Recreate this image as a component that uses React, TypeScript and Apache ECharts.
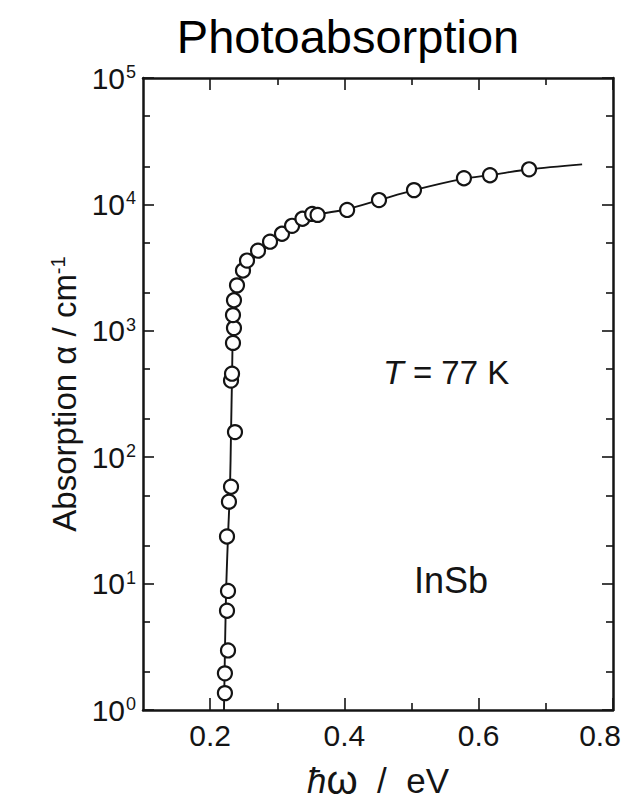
import React, { useEffect, useRef } from 'react';
import * as echarts from 'echarts';

// ---- data ----
// measured points (photon energy in eV, absorption in cm^-1)
const measuredX = [0.222, 0.222, 0.2266, 0.2251, 0.2266, 0.2251, 0.228, 0.2311, 0.237, 0.2311, 0.2326, 0.234, 0.2355, 0.234, 0.2355, 0.240, 0.2489, 0.2549, 0.2713, 0.2892, 0.307, 0.322, 0.3375, 0.352, 0.36, 0.404, 0.4515, 0.5036, 0.578, 0.6168, 0.675];
const measuredY = [1.36, 1.95, 2.96, 6.1, 8.75, 23.6, 44.5, 58.4, 158, 404, 458, 802, 1052, 1331, 1745, 2288, 3000, 3594, 4305, 5070, 5860, 6768, 7700, 8410, 8260, 9040, 10820, 12970, 16110, 17020, 18950];

// fitted curve drawn through the points
const curveX = [0.2206, 0.2236, 0.2266, 0.2296, 0.2311, 0.2326, 0.234, 0.237, 0.2415, 0.2504, 0.2668, 0.2892, 0.319, 0.3487, 0.4038, 0.4515, 0.5036, 0.578, 0.6168, 0.675, 0.754];
const curveY = [1, 8.0, 23.6, 58.4, 158, 426, 1052, 1800, 2360, 3100, 3850, 4880, 6630, 8050, 9150, 10820, 12970, 15990, 17020, 18950, 20750];

// axis ticks
const xMajorTicks = [0.2, 0.4, 0.6, 0.8];
const xMinorTicks = [0.3, 0.5, 0.7];
const xTickLabels = [0.2, 0.4, 0.6, 0.8];
const yDecades = [0, 1, 2, 3, 4];
const yMinorMantissas = [2, 5];

const FONT = "'Liberation Sans', Arial, Helvetica, sans-serif";
const INK = '#141414';

export default function App() {
  const ref = useRef<HTMLDivElement>(null);

  useEffect(() => {
    if (!ref.current) return;
    const chart = echarts.init(ref.current, undefined, { renderer: 'svg' });

    const yMinorExps: number[] = [];
    yDecades.forEach((d) => yMinorMantissas.forEach((m) => yMinorExps.push(d + Math.log10(m))));

    const axisLineStyle = { color: INK, width: 2.5 };
    const tickStyle = { color: INK, width: 1.6 };
    const xBase = { type: 'value', min: 0.1, max: 0.8, gridIndex: 0, splitLine: { show: false } };
    const yMinorBase = { type: 'value', min: 0, max: 5, gridIndex: 0, splitLine: { show: false } };

    const option: any = {
      animation: false,
      backgroundColor: '#ffffff',
      grid: { left: 143, right: 14, top: 78, bottom: 90, containLabel: false },
      graphic: [
        {
          type: 'text', x: 348, y: 36,
          style: { text: 'Photoabsorption', fontSize: 47, fontFamily: FONT, fill: '#000', align: 'center', verticalAlign: 'middle' },
        },
        {
          type: 'text', x: 383, y: 372,
          style: {
            text: '{i|T} = 77 K', fontSize: 33, fontFamily: FONT, fill: INK, align: 'left', verticalAlign: 'middle',
            rich: { i: { fontSize: 34, fontFamily: FONT, fontStyle: 'italic', fill: INK } },
          },
        },
        {
          type: 'text', x: 451, y: 580,
          style: { text: 'InSb', fontSize: 36, fontFamily: FONT, fill: INK, align: 'center', verticalAlign: 'middle' },
        },
      ],
      xAxis: [
        {
          ...xBase, position: 'bottom',
          axisLine: { show: true, onZero: false, lineStyle: axisLineStyle },
          axisTick: { show: true, inside: true, length: 12, customValues: xMajorTicks, lineStyle: tickStyle },
          axisLabel: {
            customValues: xTickLabels, margin: 10, fontSize: 30, fontFamily: FONT, color: INK,
            formatter: (v: number) => (Math.abs(v - 0.8) < 1e-6 ? '{r|0.8}' : v.toFixed(1)),
            rich: { r: { fontSize: 30, fontFamily: FONT, color: INK, padding: [0, 26, 0, 0] } },
          },
          name: '{h|ħ}{w|ω}{n|  /  eV}', nameLocation: 'middle', nameGap: 50,
          nameTextStyle: {
            fontSize: 35, fontFamily: FONT, color: INK,
            rich: {
              h: { fontSize: 35, fontFamily: FONT, color: INK, fontStyle: 'italic' },
              w: { fontSize: 40, fontFamily: FONT, color: INK },
              n: { fontSize: 35, fontFamily: FONT, color: INK },
            },
          },
        },
        {
          ...xBase, position: 'bottom',
          axisLine: { show: false, onZero: false },
          axisTick: { show: true, inside: true, length: 7, customValues: xMinorTicks, lineStyle: tickStyle },
          axisLabel: { show: false },
        },
        {
          ...xBase, position: 'top',
          axisLine: { show: true, onZero: false, lineStyle: axisLineStyle },
          axisTick: { show: true, inside: true, length: 12, customValues: xMajorTicks, lineStyle: tickStyle },
          axisLabel: { show: false },
        },
        {
          ...xBase, position: 'top',
          axisLine: { show: false, onZero: false },
          axisTick: { show: true, inside: true, length: 7, customValues: xMinorTicks, lineStyle: tickStyle },
          axisLabel: { show: false },
        },
      ],
      yAxis: [
        {
          type: 'log', logBase: 10, min: 1, max: 100000, position: 'left', gridIndex: 0,
          splitLine: { show: false },
          axisLine: { show: true, onZero: false, lineStyle: axisLineStyle },
          axisTick: { show: true, inside: true, length: 11, lineStyle: tickStyle },
          axisLabel: {
            margin: 7, color: INK, fontFamily: FONT, fontSize: 30,
            formatter: (v: number) => `{b|10}{s|${Math.round(Math.log10(v))}}`,
            rich: {
              b: { fontSize: 30, fontFamily: FONT, color: INK },
              s: { fontSize: 18, fontFamily: FONT, color: INK, verticalAlign: 'top', padding: [0, 0, 0, 1] },
            },
          },
          name: '{n|Absorption α / cm}{s|-1}', nameLocation: 'middle', nameGap: 52,
          nameTextStyle: {
            fontSize: 33, fontFamily: FONT, color: INK,
            rich: {
              n: { fontSize: 33, fontFamily: FONT, color: INK },
              s: { fontSize: 20, fontFamily: FONT, color: INK, verticalAlign: 'top' },
            },
          },
        },
        {
          ...yMinorBase, position: 'left',
          axisLine: { show: false, onZero: false },
          axisTick: { show: true, inside: true, length: 7, customValues: yMinorExps, lineStyle: tickStyle },
          axisLabel: { show: false },
        },
        {
          type: 'log', logBase: 10, min: 1, max: 100000, position: 'right', gridIndex: 0,
          splitLine: { show: false },
          axisLine: { show: true, onZero: false, lineStyle: axisLineStyle },
          axisTick: { show: true, inside: true, length: 11, lineStyle: tickStyle },
          axisLabel: { show: false },
        },
        {
          ...yMinorBase, position: 'right',
          axisLine: { show: false, onZero: false },
          axisTick: { show: true, inside: true, length: 7, customValues: yMinorExps, lineStyle: tickStyle },
          axisLabel: { show: false },
        },
      ],
      series: [
        {
          name: 'fit', type: 'line', xAxisIndex: 0, yAxisIndex: 0,
          data: curveX.map((x, i) => [x, curveY[i]]),
          showSymbol: false, smooth: 0.3, z: 2,
          lineStyle: { color: INK, width: 1.9 },
        },
        {
          name: 'measured', type: 'scatter', xAxisIndex: 0, yAxisIndex: 0,
          data: measuredX.map((x, i) => [x, measuredY[i]]),
          symbol: 'circle', symbolSize: 14, z: 3,
          itemStyle: { color: '#ffffff', borderColor: INK, borderWidth: 2.2, opacity: 1 },
        },
      ],
    };

    chart.setOption(option);
    return () => chart.dispose();
  }, []);

  return <div ref={ref} style={{ position: 'fixed', left: 0, top: 0, width: 627, height: 805, background: '#fff' }} />;
}
